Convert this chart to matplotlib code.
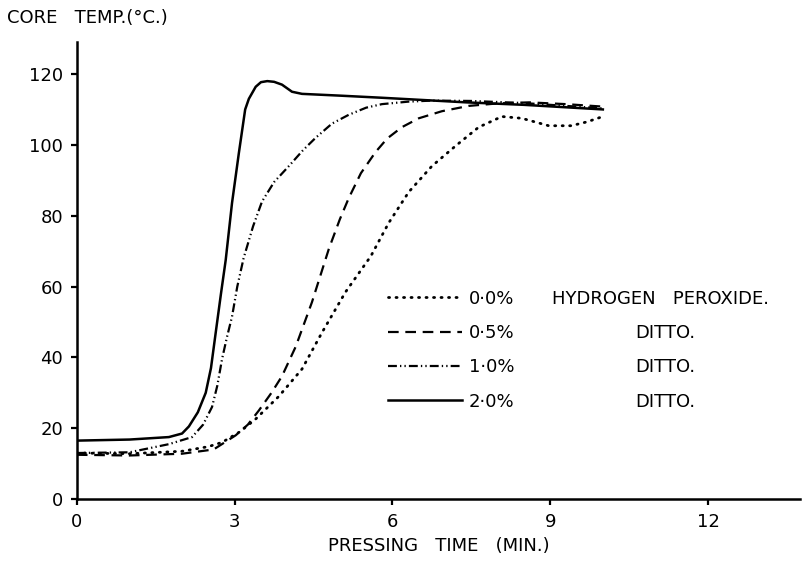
import numpy as np
import matplotlib.pyplot as plt

plt.rcParams['font.family'] = 'DejaVu Sans'

# pressing time (min) vs core temperature (deg C)
t_00 = [0, 1.0, 2.0, 2.5, 2.76, 3.1, 3.4, 3.84, 4.28, 4.66, 5.11, 5.59, 5.93,
        6.31, 6.75, 7.2, 7.64, 8.08, 8.46, 8.97, 9.4, 9.7, 10]
T_00 = [13, 12.8, 13.5, 14.8, 16, 19, 22.6, 29, 36.7, 47, 58.5, 68.6, 78,
        86.7, 94, 99.7, 105, 108, 107.5, 105.4, 105.4, 106.5, 108]

t_05 = [0, 1.0, 2.0, 2.6, 3.02, 3.25, 3.46, 3.7, 3.9, 4.16, 4.47, 4.79, 5.0,
        5.17, 5.4, 5.68, 5.9, 6.18, 6.5, 6.94, 7.45, 8.0, 8.6, 9.3, 10]
T_05 = [12.5, 12.3, 12.8, 14, 18, 21, 25, 30, 34.7, 43, 55.6, 70.6, 79,
        85, 92, 98, 101.8, 105, 107.5, 109.5, 111, 111.7, 112, 111.5, 110.8]

t_10 = [0, 1.0, 1.75, 2.19, 2.4, 2.57, 2.67, 2.76, 2.85, 2.95, 3.05, 3.17, 3.35,
        3.52, 3.75, 4.03, 4.3, 4.54, 4.85, 5.17, 5.5, 5.8, 6.3, 6.75, 7.5, 8.5, 9.3, 10]
T_10 = [13, 13.2, 15.5, 17.5, 21, 26, 32, 39.5, 45.5, 51.5, 60, 68, 77,
        84, 89.5, 94, 98.5, 102, 106, 108.5, 110.5, 111.5, 112.2, 112.5, 112.4, 111.8, 111, 110.3]

t_20 = [0, 1.0, 1.75, 2.0, 2.13, 2.3, 2.45, 2.55, 2.64, 2.74, 2.83, 2.95, 3.08,
        3.2, 3.27, 3.4, 3.5, 3.62, 3.75, 3.9, 4.09, 4.28, 5.0, 5.8, 7.4, 8.5, 10]
T_20 = [16.5, 16.8, 17.5, 18.5, 20.5, 24.5, 30, 37, 47, 58, 67.5, 83.6, 97.7,
        110, 113, 116.4, 117.7, 118, 117.8, 117, 115, 114.4, 113.9, 113.3, 112, 111.3, 110]

labels = ["0·0%", "0·5%", "1·0%", "2·0%"]
descr = ["HYDROGEN   PEROXIDE.", "DITTO.", "DITTO.", "DITTO."]

lw = 1.6
fig = plt.figure(figsize=(8.09, 5.62), dpi=100)
ax = fig.add_axes([0.095, 0.112, 0.894, 0.813])

l0, = ax.plot(t_00, T_00, color='k', lw=2.0, ls=(0, (0.4, 2.3)), dash_capstyle='round')
l1, = ax.plot(t_05, T_05, color='k', lw=lw, ls=(0, (4.8, 3.0)))
l2, = ax.plot(t_10, T_10, color='k', lw=lw, ls=(0, (4, 1.4, 0.6, 1.4, 0.6, 1.4)))
l3, = ax.plot(t_20, T_20, color='k', lw=1.8, ls='-')

ax.set_xlim(0, 13.75)
ax.set_ylim(0, 129)
ax.set_xticks([0, 3, 6, 9, 12])
ax.set_yticks(np.arange(0, 121, 20))
for s in ['top', 'right']:
    ax.spines[s].set_visible(False)
for s in ['left', 'bottom']:
    ax.spines[s].set_linewidth(1.8)
ax.tick_params(direction='out', length=4, width=1.6, labelsize=13, pad=6)

ax.set_xlabel("PRESSING   TIME   (MIN.)", fontsize=13, labelpad=4)
fig.text(0.009, 0.968, "CORE   TEMP.(°C.)", fontsize=13, ha='left', va='center')

leg = ax.legend([l0, l1, l2, l3], labels, loc='upper left',
                bbox_to_anchor=(0.43, 0.458), frameon=False, fontsize=13,
                handlelength=4.1, handletextpad=0.4, labelspacing=0.9,
                borderpad=0, borderaxespad=0)

# description column beside the legend entries
fig.canvas.draw()
rend = fig.canvas.get_renderer()
for txt, d in zip(leg.get_texts(), descr):
    bb = txt.get_window_extent(rend)
    yc = (bb.y0 + bb.y1) / 2
    xfig = 552 / 809 if d.startswith("HYD") else 635 / 809
    fig.text(xfig, yc / fig.bbox.height, d, fontsize=13, ha='left', va='center')

fig.savefig("out.png", dpi=100)
